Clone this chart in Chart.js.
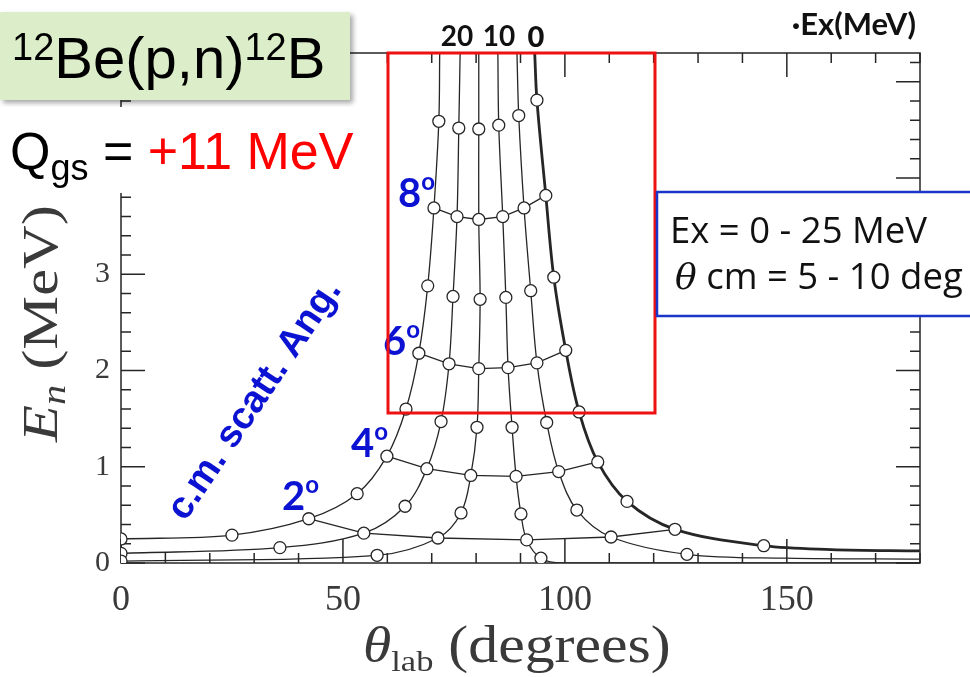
<!DOCTYPE html>
<html>
<head>
<meta charset="utf-8">
<title>12Be(p,n)12B kinematics</title>
<script src="https://cdn.jsdelivr.net/npm/chart.js@4.4.0/dist/chart.umd.min.js"></script>
<style>
  body { margin: 0; background: #fff; }
  #wrap { position: relative; width: 970px; height: 677px; overflow: hidden; }
</style>
</head>
<body>
<div id="wrap">
  <canvas id="kin" width="970" height="677"></canvas>
</div>
<script>
// excitation energy (MeV) of each kinematic line, left to right at the top
const exLevels = [25, 20, 15, 10, 5, 0];
// c.m. scattering angle (deg) of the markers = index in the arrays below
const cmAngles = [0, 1, 2, 3, 4, 5, 6, 7, 8, 9];
// iso c.m. angle lines that are drawn through the markers
const isoAngles = [2, 4, 6, 8];

// lab angle (deg) and neutron energy (MeV) of the markers, one pair per Ex
const lab25 = [0, 25.0, 42.3, 53.2, 59.9, 64.2, 67.1, 69.1, 70.5, 71.6];
const en25  = [0.25, 0.29, 0.46, 0.72, 1.11, 1.60, 2.18, 2.88, 3.69, 4.59];
const lab20 = [0, 35.8, 54.7, 64.0, 68.9, 72.1, 73.9, 74.8, 75.7, 76.1];
const en20  = [0.10, 0.16, 0.31, 0.59, 0.98, 1.47, 2.07, 2.77, 3.60, 4.52];
const lab15 = [0, 57.7, 71.4, 76.6, 78.8, 80.2, 80.6, 80.9, 80.6, 80.6];
const en15  = [0.02, 0.08, 0.26, 0.52, 0.91, 1.41, 2.02, 2.74, 3.57, 4.51];
const lab10 = [180, 94.6, 91.4, 90.1, 89.0, 88.1, 87.2, 86.7, 86.0, 85.1];
const en10  = [0.0, 0.05, 0.24, 0.51, 0.90, 1.41, 2.03, 2.76, 3.60, 4.55];
const lab5  = [180, 127.5, 110.4, 102.7, 98.6, 95.9, 93.7, 92.3, 90.8, 89.6];
const en5   = [0.04, 0.09, 0.27, 0.55, 0.95, 1.46, 2.08, 2.83, 3.69, 4.65];
const lab0  = [180, 144.8, 124.8, 114.0, 107.4, 103.2, 100.2, 97.5, 95.7, 93.7];
const en0   = [0.125, 0.18, 0.35, 0.64, 1.05, 1.57, 2.21, 2.97, 3.82, 4.81];

// where each line leaves the top of the frame
const labTop = [71.8, 76.4, 80.6, 84.9, 89.2, 93.2];
const enTop = 5.3;
// one extra point on the low-energy tail (between 1 deg and 0 deg c.m.)
const labTail = [null, null, null, 99.5, 150, 160];
const enTail  = [null, null, null, 0.0, 0.05, 0.14];

// axis ranges and ticks
const xMax = 180, xMajor = 50, xMinor = 10;
const yMax = 5.3, yMajor = 1, yMinor = 0.2;

const labByEx = [lab25, lab20, lab15, lab10, lab5, lab0];
const enByEx = [en25, en20, en15, en10, en5, en0];

const ink = '#262626';
const blue = '#0c12d2';

// kinematic lines, from the top edge down to 0 deg c.m.
const exLines = exLevels.map((ex, k) => {
  const pts = [{x: labTop[k], y: enTop}];
  for (let i = cmAngles.length - 1; i >= 1; i--) {
    pts.push({x: labByEx[k][i], y: enByEx[k][i]});
  }
  if (labTail[k] !== null) pts.push({x: labTail[k], y: enTail[k]});
  pts.push({x: labByEx[k][0], y: enByEx[k][0]});
  return {
    label: 'Ex = ' + ex + ' MeV',
    data: pts,
    showLine: true,
    pointRadius: 0,
    borderColor: ink,
    borderWidth: ex === 0 ? 2.8 : 1.3,
    tension: 0.35,
    order: 3
  };
});

// lines of equal c.m. angle
const isoLines = isoAngles.map(a => ({
  label: a + ' deg c.m.',
  data: exLevels.map((ex, k) => ({x: labByEx[k][a], y: enByEx[k][a]})),
  showLine: true,
  pointRadius: 0,
  borderColor: ink,
  borderWidth: 1.3,
  tension: 0,
  order: 2
}));

// open circles; 0 deg c.m. only where it falls inside the frame
const markers = [];
exLevels.forEach((ex, k) => {
  cmAngles.forEach(i => {
    if (i === 0 && labByEx[k][0] >= xMax) return;
    markers.push({x: labByEx[k][i], y: enByEx[k][i]});
  });
});
const markerSet = {
  label: 'markers',
  data: markers,
  pointRadius: 6,
  pointBorderWidth: 1.3,
  pointBorderColor: ink,
  pointBackgroundColor: '#fff',
  order: 1
};

// frame with inward ticks on all four sides
const frameTicks = {
  id: 'frameTicks',
  beforeDatasetsDraw(chart) {
    const {ctx, chartArea: a, scales: {x, y}} = chart;
    ctx.save();
    ctx.strokeStyle = ink;
    ctx.lineWidth = 1.5;
    ctx.strokeRect(a.left, a.top, a.right - a.left, a.bottom - a.top);
    ctx.beginPath();
    for (let v = 0; v <= xMax; v += xMinor) {
      const px = x.getPixelForValue(v);
      const len = v % xMajor === 0 ? 24 : 10;
      ctx.moveTo(px, a.bottom); ctx.lineTo(px, a.bottom - len);
      ctx.moveTo(px, a.top); ctx.lineTo(px, a.top + len);
    }
    const n = Math.floor(yMax / yMinor + 1e-6);
    for (let i = 0; i <= n; i++) {
      const py = y.getPixelForValue(i * yMinor);
      const len = i % Math.round(yMajor / yMinor) === 0 ? 24 : 10;
      ctx.moveTo(a.left, py); ctx.lineTo(a.left + len, py);
      ctx.moveTo(a.right, py); ctx.lineTo(a.right - len, py);
    }
    ctx.stroke();
    ctx.restore();
  }
};

// draw a row of text pieces with different fonts along one baseline
function drawRuns(ctx, x, y, runs) {
  for (const r of runs) {
    ctx.font = r.font;
    ctx.fillStyle = r.color || '#000';
    ctx.fillText(r.t, x, y + (r.dy || 0));
    x += ctx.measureText(r.t).width;
  }
  return x;
}

const annotate = {
  id: 'annotate',
  afterDraw(chart) {
    const ctx = chart.ctx;
    ctx.save();
    ctx.textBaseline = 'alphabetic';

    // axis titles (the plot was stretched sideways)
    ctx.save();
    ctx.translate(363, 662);
    ctx.scale(1.15, 1);
    drawRuns(ctx, 0, 0, [
      {t: '\u03b8', font: 'italic 50px "Liberation Serif"', color: '#3a3a3a'},
      {t: 'lab', font: '30px "Liberation Serif"', color: '#3a3a3a', dy: 9},
      {t: ' (degrees)', font: '52px "Liberation Serif"', color: '#3a3a3a'}
    ]);
    ctx.restore();

    ctx.save();
    ctx.translate(57, 442);
    ctx.rotate(-Math.PI / 2);
    ctx.scale(1.12, 0.92);
    drawRuns(ctx, 0, 0, [
      {t: 'E', font: 'italic 54px "Liberation Serif"', color: '#3a3a3a'},
      {t: 'n', font: 'italic 36px "Liberation Serif"', color: '#3a3a3a', dy: 9},
      {t: ' (MeV)', font: '54px "Liberation Serif"', color: '#3a3a3a'}
    ]);
    ctx.restore();

    // Ex values on top of the lines
    ctx.font = 'bold 28px Lato';
    ctx.fillStyle = '#111';
    ctx.textAlign = 'center';
    ctx.fillText('20', 457, 46);
    ctx.fillText('10', 499, 46);
    ctx.font = '900 29px Lato';
    ctx.fillText('0', 536, 47);
    ctx.font = 'bold 31px Lato';
    ctx.textAlign = 'right';
    ctx.fillText('\u00b7Ex(MeV)', 916, 35);
    ctx.textAlign = 'left';

    // c.m. angle labels
    const deg = [[398, 207, '8'], [383, 355, '6'], [351, 457, '4'], [282, 510, '2']];
    deg.forEach(([x, y, t]) => {
      drawRuns(ctx, x, y, [
        {t: t, font: 'bold 40px Lato', color: blue},
        {t: 'o', font: 'bold 24px Lato', color: blue, dy: -17}
      ]);
    });
    ctx.save();
    ctx.translate(255, 400);
    ctx.rotate(-56 * Math.PI / 180);
    ctx.textAlign = 'center';
    ctx.textBaseline = 'middle';
    ctx.font = 'bold 38px "Liberation Sans"';
    ctx.fillStyle = blue;
    ctx.fillText('c.m. scatt. Ang.', 0, 0);
    ctx.restore();

    // red frame around the region of interest
    ctx.strokeStyle = '#ee1111';
    ctx.lineWidth = 3;
    ctx.strokeRect(388, 53, 267, 360);

    // blue box with the covered range
    ctx.fillStyle = '#fff';
    ctx.fillRect(657, 192, 330, 124);
    ctx.strokeStyle = '#1a35c8';
    ctx.lineWidth = 2.5;
    ctx.strokeRect(657, 192, 330, 124);
    drawRuns(ctx, 670, 243, [{t: 'Ex = 0 - 25 MeV', font: '36.5px "Open Sans"', color: '#111'}]);
    drawRuns(ctx, 675, 289, [
      {t: '\u03b8', font: 'italic 36px "DejaVu Serif"', color: '#111'},
      {t: ' cm = 5 - 10 deg', font: '36.5px "Open Sans"', color: '#111'}
    ]);

    // reaction title in the green box
    ctx.save();
    ctx.shadowColor = 'rgba(0,0,0,0.35)';
    ctx.shadowBlur = 5;
    ctx.shadowOffsetX = 3;
    ctx.shadowOffsetY = 3;
    ctx.fillStyle = '#dcedc9';
    ctx.fillRect(0, 12, 350, 88);
    ctx.restore();
    drawRuns(ctx, 12, 78, [
      {t: '12', font: '38px "Liberation Sans"', dy: -18},
      {t: 'Be(p,n)', font: '58px "Liberation Sans"'},
      {t: '12', font: '38px "Liberation Sans"', dy: -18},
      {t: 'B', font: '58px "Liberation Sans"'}
    ]);

    // Q value on a white patch
    ctx.fillStyle = '#fff';
    ctx.fillRect(0, 107, 364, 86);
    drawRuns(ctx, 10, 169, [
      {t: 'Q', font: '52px "Liberation Sans"'},
      {t: 'gs', font: '36px "Liberation Sans"', dy: 11},
      {t: ' = ', font: '52px "Liberation Sans"'},
      {t: '+11 MeV', font: '52px "Liberation Sans"', color: '#ff0000'}
    ]);
    ctx.restore();
  }
};

new Chart(document.getElementById('kin'), {
  type: 'scatter',
  data: { datasets: [markerSet, ...isoLines, ...exLines] },
  options: {
    responsive: false,
    animation: false,
    layout: { padding: { top: 53, right: 50, left: 0, bottom: 0 } },
    plugins: { legend: { display: false }, tooltip: { enabled: false } },
    scales: {
      x: {
        type: 'linear', min: 0, max: xMax,
        grid: { display: false, drawTicks: false },
        border: { display: false },
        ticks: { stepSize: xMajor, includeBounds: false, padding: 16, color: '#3a3a3a',
                 font: { family: 'Liberation Serif', size: 36 } },
        afterFit(scale) { scale.height = 114; }
      },
      y: {
        type: 'linear', min: 0, max: yMax,
        grid: { display: false, drawTicks: false },
        border: { display: false },
        ticks: { stepSize: yMajor, includeBounds: false, padding: 11, color: '#3a3a3a',
                 font: { family: 'Liberation Serif', size: 30 } },
        afterFit(scale) { scale.width = 121; }
      }
    }
  },
  plugins: [frameTicks, annotate]
});
</script>
</body>
</html>
